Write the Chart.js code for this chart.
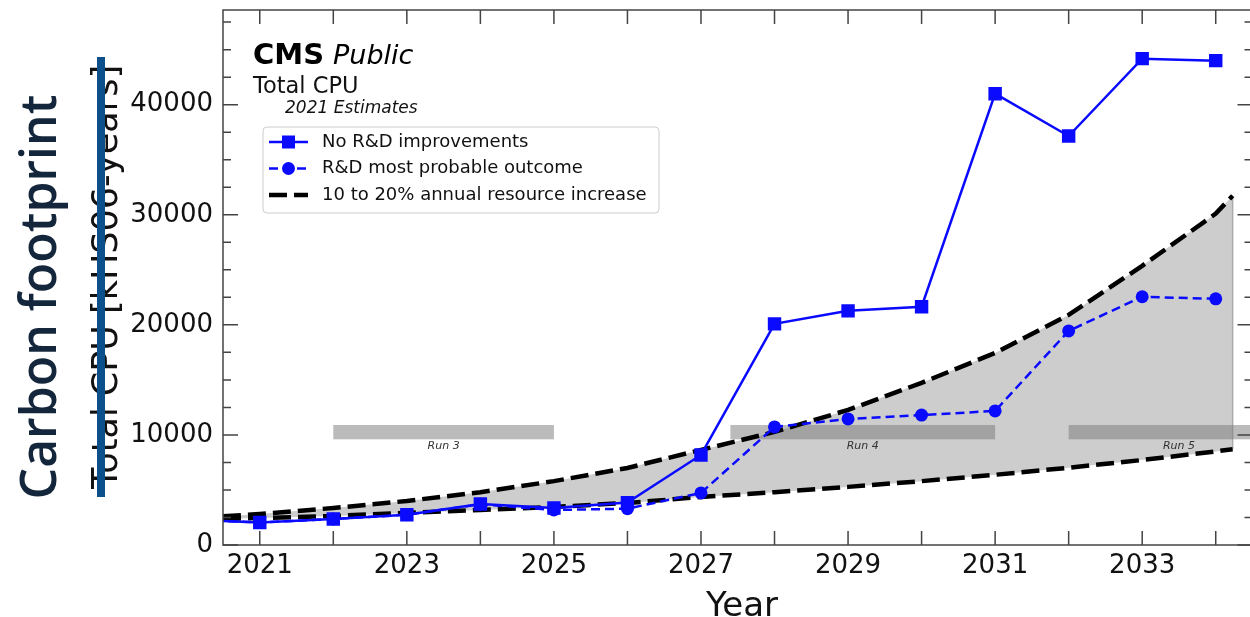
<!DOCTYPE html>
<html>
<head>
<meta charset="utf-8">
<title>Total CPU – 2021 Estimates</title>
<script src="https://cdn.jsdelivr.net/npm/chart.js@4.4.1/dist/chart.umd.min.js"></script>
<style>
  html, body { margin: 0; padding: 0; background: #fff; overflow: hidden; width: 1250px; height: 617px; }
  #wrap { position: relative; width: 1262px; height: 617px; }
</style>
</head>
<body>
<div id="wrap"><canvas id="c" width="1262" height="617"></canvas></div>
<script>
// ---- data (kHS06-years) ----
const years = [2020, 2021, 2022, 2023, 2024, 2025, 2026, 2027, 2028, 2029, 2030, 2031, 2032, 2033, 2034];
const noRD      = [2300, 2050, 2360, 2750, 3730, 3360, 3850, 8180, 20090, 21270, 21640, 41000, 37150, 44180, 44000];
const rdLikely  = [2300, 2050, 2360, 2750, 3700, 3180, 3300, 4730, 10730, 11450, 11800, 12180, 19450, 22550, 22360];

// flat-budget envelope: 10% (low) to 20% (high) yearly growth
const bandYears = [2020.5, 2021, 2022, 2023, 2024, 2025, 2026, 2027, 2028, 2029, 2030, 2031, 2032, 2033, 2034, 2034.23];
const bandHigh  = [2600, 2820, 3360, 4000, 4800, 5800, 7000, 8640, 10270, 12270, 14730, 17450, 20900, 25360, 30100, 31730];
const bandLow   = [2380, 2450, 2640, 2910, 3180, 3450, 3820, 4360, 4800, 5280, 5800, 6380, 7020, 7720, 8500, 8700];

// LHC run periods
const runNames  = ['Run 3', 'Run 4', 'Run 5'];
const runStart  = [2022, 2027.4, 2032];
const runEnd    = [2025, 2031, 2035];
const runBottom = 9600;
const runTop    = 10900;

// axis ticks
const xTickYears = [2021, 2022, 2023, 2024, 2025, 2026, 2027, 2028, 2029, 2030, 2031, 2032, 2033, 2034];
const xLabelYears = [2021, 2023, 2025, 2027, 2029, 2031, 2033];
const yTicks = [0, 2500, 5000, 7500, 10000, 12500, 15000, 17500, 20000, 22500, 25000, 27500, 30000,
                32500, 35000, 37500, 40000, 42500, 45000, 47500];
const yLabels = [0, 10000, 20000, 30000, 40000];

const BLUE = '#0a0aff';
const pts = (xs, ys) => xs.map((x, i) => ({ x, y: ys[i] }));

const datasets = [
  { // 0: lower envelope (fill anchor only)
    data: pts(bandYears, bandLow), borderColor: 'transparent', borderWidth: 0,
    pointRadius: 0, fill: false, order: 20
  },
  { // 1: envelope fill
    data: pts(bandYears, bandHigh), borderColor: 'transparent', borderWidth: 0,
    pointRadius: 0, fill: { target: 0 }, backgroundColor: '#cdcdcd', order: 19
  },
  { // 2: closing edge of envelope
    data: [{ x: bandYears.at(-1), y: bandLow.at(-1) }, { x: bandYears.at(-1), y: bandHigh.at(-1) }],
    borderColor: '#ababab', borderWidth: 1.5, pointRadius: 0, fill: false, order: 18
  },
  { // 3: 10% line
    label: '10 to 20% annual resource increase',
    data: pts(bandYears, bandLow), borderColor: '#000', borderWidth: 4.5, borderDash: [18, 7],
    pointRadius: 0, fill: false, order: 5
  },
  { // 4: 20% line
    data: pts(bandYears, bandHigh), borderColor: '#000', borderWidth: 4.5, borderDash: [18, 7],
    pointRadius: 0, fill: false, order: 5
  },
  { // 5
    label: 'R&D most probable outcome',
    data: pts(years, rdLikely), borderColor: BLUE, backgroundColor: BLUE, borderWidth: 2.5,
    borderDash: [9, 5], pointStyle: 'circle', pointRadius: 6.5, pointBorderWidth: 0, fill: false, order: 2
  },
  { // 6
    label: 'No R&D improvements',
    data: pts(years, noRD), borderColor: BLUE, backgroundColor: BLUE, borderWidth: 2.5,
    pointStyle: 'rect', pointRadius: 9.5, pointBorderWidth: 0, fill: false, order: 1
  }
];

// run period boxes, drawn just above the envelope fill
const runBoxes = {
  id: 'runBoxes',
  afterDatasetDraw(chart, args) {
    if (args.index !== 2) return;
    const { ctx, chartArea: a, scales: { x, y } } = chart;
    ctx.save();
    ctx.beginPath();
    ctx.rect(a.left, a.top, a.right - a.left, a.bottom - a.top);
    ctx.clip();
    const yt = y.getPixelForValue(runTop), yb = y.getPixelForValue(runBottom);
    runNames.forEach((name, i) => {
      const x0 = x.getPixelForValue(runStart[i]), x1 = x.getPixelForValue(runEnd[i]);
      ctx.fillStyle = 'rgba(120,120,120,0.5)';
      ctx.fillRect(x0, yt, x1 - x0, yb - yt);
      ctx.fillStyle = '#333';
      ctx.font = 'italic 11px "DejaVu Sans"';
      ctx.textAlign = 'center';
      ctx.textBaseline = 'top';
      ctx.fillText(name, (x0 + x1) / 2, yb + 1.5);
    });
    ctx.restore();
  }
};

// frame, inward ticks, titles, annotations and legend
const decorations = {
  id: 'decorations',
  afterDraw(chart) {
    const { ctx, chartArea: a, scales: { x, y } } = chart;
    ctx.save();
    ctx.strokeStyle = '#444';
    ctx.lineWidth = 1.5;
    ctx.strokeRect(a.left, a.top, a.right - a.left, a.bottom - a.top);

    ctx.beginPath();
    xTickYears.forEach(v => {
      const px = x.getPixelForValue(v);
      ctx.moveTo(px, a.bottom); ctx.lineTo(px, a.bottom - 14);
      ctx.moveTo(px, a.top); ctx.lineTo(px, a.top + 14);
    });
    yTicks.forEach(v => {
      const py = y.getPixelForValue(v);
      const len = yLabels.includes(v) ? 15 : 8;
      ctx.moveTo(a.left, py); ctx.lineTo(a.left + len, py);
      ctx.moveTo(a.right, py); ctx.lineTo(a.right - len, py);
    });
    ctx.stroke();

    // x title
    ctx.fillStyle = '#111';
    ctx.font = '34px "DejaVu Sans"';
    ctx.textAlign = 'center';
    ctx.textBaseline = 'alphabetic';
    ctx.fillText('Year', 742, 616);

    // y title with overlay stripe
    ctx.save();
    ctx.translate(117, 277);
    ctx.rotate(-Math.PI / 2);
    ctx.font = '35px "DejaVu Sans"';
    ctx.textAlign = 'center';
    ctx.fillStyle = '#111';
    ctx.fillText('Total CPU [kHS06-years]', 0, 0);
    ctx.restore();
    ctx.fillStyle = '#0d4f8b';
    ctx.fillRect(97, 57, 8, 440);

    ctx.save();
    ctx.translate(56, 297);
    ctx.rotate(-Math.PI / 2);
    ctx.font = '600 46px "Open Sans"';
    const w = ctx.measureText('Carbon footprint').width;
    const fs = 46 * 405 / w;
    ctx.font = '600 ' + fs.toFixed(1) + 'px "Open Sans"';
    ctx.textAlign = 'center';
    ctx.fillStyle = '#14263b';
    ctx.fillText('Carbon footprint', 0, 0);
    ctx.restore();

    // experiment label
    const L = a.left, T = a.top;
    ctx.textAlign = 'left';
    ctx.fillStyle = '#000';
    ctx.font = 'bold 29px "DejaVu Sans"';
    ctx.fillText('CMS', L + 30, T + 54);
    ctx.font = 'italic 27px "DejaVu Sans"';
    ctx.fillText('Public', L + 110, T + 54);
    ctx.fillStyle = '#111';
    ctx.font = '22.5px "DejaVu Sans"';
    ctx.fillText('Total CPU', L + 30, T + 83);
    ctx.font = 'italic 17px "DejaVu Sans"';
    ctx.fillText('2021 Estimates', L + 62, T + 103);

    // legend
    const bx = L + 40, by = T + 117, bw = 396, bh = 86;
    ctx.fillStyle = 'rgba(255,255,255,0.85)';
    ctx.strokeStyle = '#cccccc';
    ctx.lineWidth = 1;
    ctx.beginPath();
    ctx.roundRect(bx, by, bw, bh, 4);
    ctx.fill();
    ctx.stroke();
    const legendItems = [datasets[6], datasets[5], datasets[3]];
    legendItems.forEach((ds, i) => {
      const cy = by + 15 + i * 26.5;
      const x0 = bx + 6, x1 = bx + 45, xm = (x0 + x1) / 2;
      ctx.strokeStyle = ds.borderColor;
      ctx.lineWidth = ds.borderWidth;
      ctx.setLineDash(ds.borderDash || []);
      ctx.beginPath();
      ctx.moveTo(x0, cy); ctx.lineTo(x1, cy);
      ctx.stroke();
      ctx.setLineDash([]);
      ctx.fillStyle = ds.borderColor;
      if (ds.pointStyle === 'rect') {
        ctx.fillRect(xm - 6.5, cy - 6.5, 13, 13);
      } else if (ds.pointStyle === 'circle') {
        ctx.beginPath(); ctx.arc(xm, cy, 6.5, 0, Math.PI * 2); ctx.fill();
      }
      ctx.fillStyle = '#111';
      ctx.font = '18px "DejaVu Sans"';
      ctx.textBaseline = 'middle';
      ctx.fillText(ds.label, bx + 59, cy);
      ctx.textBaseline = 'alphabetic';
    });
    ctx.restore();
  }
};

new Chart(document.getElementById('c'), {
  type: 'line',
  data: { datasets },
  options: {
    responsive: false,
    animation: false,
    events: [],
    layout: { padding: { top: 10, right: 2, left: 0, bottom: 0 } },
    plugins: { legend: { display: false }, tooltip: { enabled: false } },
    elements: { line: { tension: 0 } },
    scales: {
      x: {
        type: 'linear', min: 2020.5, max: 2034.5,
        grid: { display: false, drawTicks: false }, border: { display: false },
        afterBuildTicks: s => { s.ticks = xTickYears.map(value => ({ value })); },
        ticks: {
          autoSkip: false, maxRotation: 0, padding: 6,
          color: '#111', font: { family: 'DejaVu Sans', size: 26 },
          callback: v => (xLabelYears.includes(v) ? String(v) : '')
        },
        afterFit: s => { s.height = 72; s.paddingLeft = 0; s.paddingRight = 0; }
      },
      y: {
        type: 'linear', min: 0, max: 48600,
        grid: { display: false, drawTicks: false }, border: { display: false },
        afterBuildTicks: s => { s.ticks = yTicks.map(value => ({ value })); },
        ticks: {
          autoSkip: false, padding: 10,
          color: '#111', font: { family: 'DejaVu Sans', size: 26 },
          callback: v => (yLabels.includes(v) ? String(v) : '')
        },
        afterFit: s => { s.width = 223; s.paddingTop = 0; s.paddingBottom = 0; }
      }
    }
  },
  plugins: [runBoxes, decorations]
});
</script>
</body>
</html>
